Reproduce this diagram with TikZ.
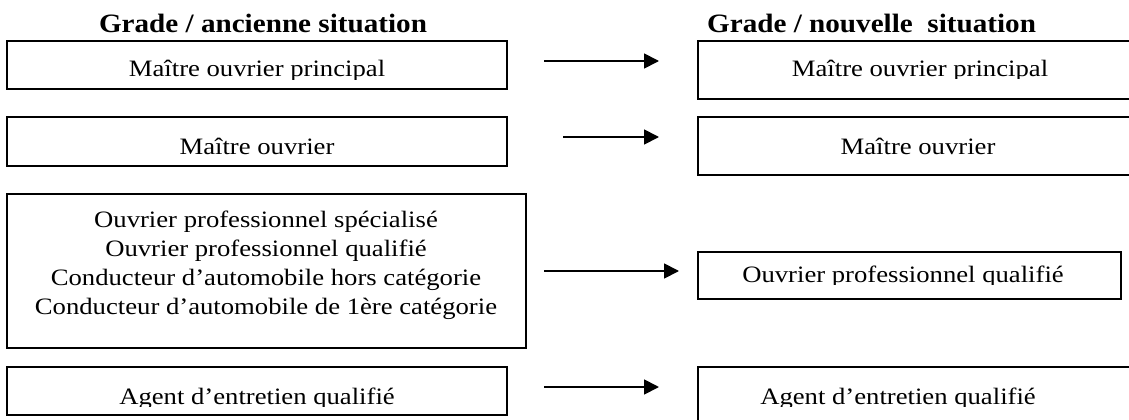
\documentclass[tikz,border=0pt]{standalone}
\usepackage{fontspec}
\setmainfont{Liberation Serif}
\newfontfamily\bodyf[FakeStretch=1.135]{Liberation Serif}
\newfontfamily\titlef[FakeStretch=1.10]{Liberation Serif}
\usetikzlibrary{arrows.meta}
\begin{document}
\begin{tikzpicture}[x=1pt,y=-1pt,
  box/.style={draw, line width=1.6pt, inner sep=0pt, outer sep=0pt, anchor=north west},
  lbl/.style={anchor=base, inner sep=0pt, font=\bodyf\fontsize{23.5}{29}\selectfont},
  ttl/.style={anchor=base, inner sep=0pt, font=\titlef\fontsize{26.5}{29}\selectfont\bfseries},
  arr/.style={line width=1.8pt, -{Triangle[length=15pt,width=15pt]}}]
\clip (0,0) rectangle (1129,420);
\fill[white] (0,0) rectangle (1129,420);
% titles
\node[ttl] (t1) at (263,33) {Grade / ancienne situation};
\node[ttl, anchor=base west] (t2) at (707,33) {Grade / nouvelle~~situation};
% old boxes
\node[box, minimum width=500pt, minimum height=48pt] (o1) at (7,41) {};
\node[box, minimum width=500pt, minimum height=49pt] (o2) at (7,117) {};
\node[box, minimum width=519pt, minimum height=154pt] (o3) at (7,194) {};
\node[box, minimum width=500pt, minimum height=48pt] (o4) at (7,367) {};
% new boxes
\node[box, minimum width=444pt, minimum height=58pt] (n1) at (698,41) {};
\node[box, minimum width=444pt, minimum height=58pt] (n2) at (698,117) {};
\node[box, minimum width=423pt, minimum height=47pt] (n3) at (698,252) {};
\node[box, minimum width=444pt, minimum height=70pt] (n4) at (698,367) {};
% texts
\begin{scope}\clip (7,41) rectangle (507,79);
\node[lbl] (x1) at (257,77) {Maître ouvrier principal};\end{scope}
\node[lbl] (x2) at (257,154) {Maître ouvrier};
\node[lbl] (x3a) at (266,227) {Ouvrier professionnel spécialisé};
\node[lbl] (x3b) at (266,256) {Ouvrier professionnel qualifié};
\node[lbl] (x3c) at (266,285) {Conducteur d’automobile hors catégorie};
\node[lbl] (x3d) at (266,314) {Conducteur d’automobile de 1ère catégorie};
\begin{scope}\clip (7,367) rectangle (507,406);
\node[lbl] (x4) at (257,404) {Agent d’entretien qualifié};\end{scope}
\begin{scope}\clip (698,41) rectangle (1129,78);
\node[lbl] (y1) at (920,76) {Maître ouvrier principal};\end{scope}
\node[lbl] (y2) at (918,154) {Maître ouvrier};
\begin{scope}\clip (698,252) rectangle (1121,284);
\node[lbl] (y3) at (903,282) {Ouvrier professionnel qualifié};\end{scope}
\begin{scope}\clip (698,367) rectangle (1129,406);
\node[lbl] (y4) at (898,404) {Agent d’entretien qualifié};\end{scope}
% arrows
\coordinate (a1s) at (544,61); \coordinate (a1e) at (659,61);
\coordinate (a2s) at (563,137); \coordinate (a2e) at (659,137);
\coordinate (a3s) at (544,271); \coordinate (a3e) at (679,271);
\coordinate (a4s) at (544,387); \coordinate (a4e) at (659,387);
\draw[arr] (a1s) -- (a1e);
\draw[arr] (a2s) -- (a2e);
\draw[arr] (a3s) -- (a3e);
\draw[arr] (a4s) -- (a4e);
\end{tikzpicture}
\end{document}
